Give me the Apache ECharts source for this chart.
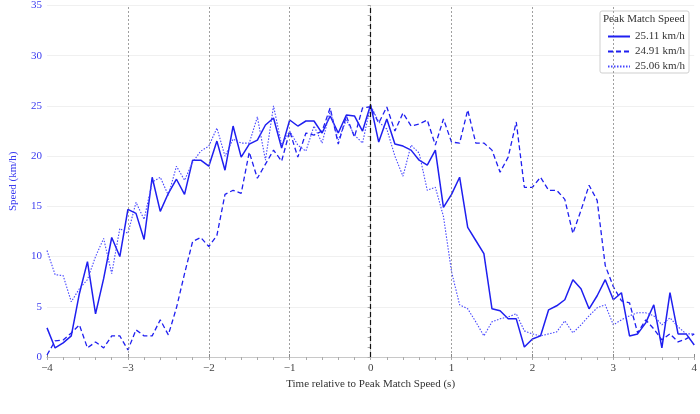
<!DOCTYPE html>
<html>
<head>
<meta charset="utf-8">
<script src="https://cdn.jsdelivr.net/npm/echarts@6/dist/echarts.min.js"></script>
<style>
  html, body { margin: 0; padding: 0; background: #fff; }
  #chart { width: 700px; height: 414px; }
</style>
</head>
<body>
<div id="chart"></div>
<script>
// time axis (s), sampled every 0.1 s
var times = [-4.0, -3.9, -3.8, -3.7, -3.6, -3.5, -3.4, -3.3, -3.2, -3.1,
  -3.0, -2.9, -2.8, -2.7, -2.6, -2.5, -2.4, -2.3, -2.2, -2.1,
  -2.0, -1.9, -1.8, -1.7, -1.6, -1.5, -1.4, -1.3, -1.2, -1.1,
  -1.0, -0.9, -0.8, -0.7, -0.6, -0.5, -0.4, -0.3, -0.2, -0.1,
  0.0, 0.1, 0.2, 0.3, 0.4, 0.5, 0.6, 0.7, 0.8, 0.9,
  1.0, 1.1, 1.2, 1.3, 1.4, 1.5, 1.6, 1.7, 1.8, 1.9,
  2.0, 2.1, 2.2, 2.3, 2.4, 2.5, 2.6, 2.7, 2.8, 2.9,
  3.0, 3.1, 3.2, 3.3, 3.4, 3.5, 3.6, 3.7, 3.8, 3.9, 4.0];

var names = ['25.11 km/h', '24.91 km/h', '25.06 km/h'];

var speedSolid = [2.9, 0.9, 1.4, 2.1, 6.3, 9.5, 4.3, 7.8, 11.9, 10.0,
  14.7, 14.3, 11.7, 17.9, 14.5, 16.3, 17.7, 16.2, 19.6, 19.6,
  19.0, 21.5, 18.6, 23.0, 19.9, 21.2, 21.6, 23.1, 23.8, 20.8,
  23.6, 23.0, 23.5, 23.5, 22.3, 24.0, 22.3, 24.1, 24.0, 22.5,
  25.11, 21.4, 23.7, 21.2, 21.0, 20.6, 19.6, 19.1, 20.6, 14.9,
  16.2, 17.9, 12.9, 11.6, 10.3, 4.8, 4.6, 3.8, 3.8, 1.0,
  1.8, 2.1, 4.7, 5.1, 5.7, 7.7, 6.8, 4.8, 6.1, 7.7,
  5.7, 6.4, 2.1, 2.3, 3.4, 5.2, 0.9, 6.4, 2.3, 2.3, 1.2];

var speedDashed = [0.2, 1.6, 1.7, 2.4, 3.2, 0.9, 1.5, 0.9, 2.1, 2.1,
  0.7, 2.7, 2.1, 2.1, 3.7, 2.2, 4.9, 8.3, 11.5, 11.9,
  11.0, 12.1, 16.2, 16.6, 16.3, 20.4, 17.8, 19.2, 20.6, 19.5,
  22.5, 19.9, 22.3, 22.1, 22.5, 24.8, 21.2, 24.0, 21.9, 24.8,
  24.91, 23.3, 24.9, 22.5, 24.3, 23.0, 23.2, 23.6, 21.1, 23.7,
  21.4, 21.3, 24.6, 21.3, 21.3, 20.6, 18.4, 19.9, 23.4, 16.9,
  16.9, 17.9, 16.6, 16.6, 15.7, 12.3, 14.6, 17.1, 15.6, 9.1,
  7.0, 5.6, 5.4, 2.4, 3.7, 2.8, 1.7, 2.3, 1.5, 1.8, 2.3];

var speedDotted = [10.6, 8.2, 8.1, 5.5, 6.8, 7.7, 10.0, 11.8, 8.3, 12.8,
  12.3, 15.4, 13.7, 17.4, 17.9, 16.1, 19.0, 17.6, 19.4, 20.5,
  21.0, 22.8, 20.0, 21.7, 21.3, 21.3, 23.9, 19.6, 25.0, 21.1,
  22.5, 21.1, 20.5, 23.0, 21.3, 24.5, 21.6, 23.6, 22.1, 21.3,
  25.06, 23.4, 22.7, 20.0, 18.0, 21.1, 20.3, 16.6, 16.9, 14.0,
  8.5, 5.2, 4.8, 3.5, 2.1, 3.5, 3.8, 4.0, 4.3, 2.6,
  2.3, 2.1, 2.3, 2.5, 3.6, 2.4, 3.2, 4.1, 4.9, 5.2,
  3.2, 3.7, 4.1, 4.4, 4.4, 4.1, 3.2, 3.9, 3.0, 2.3, 2.3];

var xTicks = [-3, -2, -1, 1, 2, 3];

var FONT = 'Liberation Serif';
var BLUE = '#1f1ff0';

function pairs(vals) {
  return times.map(function (t, i) { return [t, vals[i]]; });
}

function fmtNum(v) {
  return v < 0 ? '\u2212' + Math.abs(v) : String(v);
}

var chart = echarts.init(document.getElementById('chart'), null, { renderer: 'canvas' });

var vLines = xTicks.map(function (v) {
  return { xAxis: v, lineStyle: { color: '#888', type: [2, 2], width: 0.8 } };
});
vLines.push({ xAxis: 0, lineStyle: { color: '#111', type: [5, 3], width: 1.2 } });

var option = {
  animation: false,
  textStyle: { fontFamily: FONT },
  grid: { left: 30, right: 5, top: 5, bottom: 57 },
  xAxis: [{
    type: 'value', min: -4, max: 4, interval: 1,
    axisLine: { lineStyle: { color: '#c8c8c8' } },
    axisTick: { show: true, inside: true, length: 3, lineStyle: { color: '#888' } },
    splitLine: { show: false },
    axisLabel: { color: '#444', fontSize: 11, margin: 6, fontFamily: FONT, formatter: fmtNum },
    name: 'Time relative to Peak Match Speed (s)',
    nameLocation: 'middle', nameGap: 18,
    nameTextStyle: { color: '#333', fontSize: 11, fontFamily: FONT }
  }, {
    type: 'value', position: 'top', min: -4, max: 4, interval: 0.2,
    axisLine: { show: true, lineStyle: { color: '#c8c8c8' } },
    axisTick: { show: true, inside: true, length: 3, lineStyle: { color: '#aaa' } },
    axisLabel: { show: false },
    splitLine: { show: false }
  }],
  yAxis: [{
    type: 'value', min: 0, max: 35, interval: 5,
    axisLine: { show: true, lineStyle: { color: '#c8c8c8' } },
    axisTick: { show: false },
    splitLine: { show: true, lineStyle: { color: '#ececec', width: 0.8 } },
    axisLabel: { color: '#3a3af0', fontSize: 11, margin: 5, fontFamily: FONT },
    name: 'Speed (km/h)',
    nameLocation: 'middle', nameGap: 28,
    nameTextStyle: { color: '#3a3af0', fontSize: 11, fontFamily: FONT }
  }, {
    type: 'value', position: 'right', min: 0, max: 35, interval: 1,
    axisLine: { show: true, lineStyle: { color: '#c8c8c8' } },
    axisTick: { show: true, inside: true, length: 3, lineStyle: { color: '#aaa' } },
    axisLabel: { show: false },
    splitLine: { show: false }
  }],
  legend: {
    data: names,
    orient: 'vertical',
    left: 602, top: 26,
    itemWidth: 22, itemHeight: 10, itemGap: 4,
    itemStyle: { color: 'transparent', borderColor: 'transparent', borderWidth: 0 },
    textStyle: { fontSize: 11, color: '#333', fontFamily: FONT },
    z: 10
  },
  graphic: [{
    type: 'rect', z: 5,
    shape: { x: 600, y: 11, width: 89, height: 62, r: 2 },
    style: { fill: 'rgba(255,255,255,0.9)', stroke: '#cfcfcf', lineWidth: 1 }
  }, {
    type: 'text', z: 11,
    left: 603, top: 14,
    style: { text: 'Peak Match Speed', fill: '#333', font: '11px "Liberation Serif"' }
  }],
  series: [{
    name: names[0], type: 'line', showSymbol: false, symbol: 'none',
    data: pairs(speedSolid),
    lineStyle: { color: BLUE, width: 1.5, type: 'solid' },
    itemStyle: { color: BLUE },
    z: 3,
    markLine: {
      silent: true, symbol: 'none', label: { show: false },
      data: vLines
    }
  }, {
    name: names[1], type: 'line', showSymbol: false, symbol: 'none',
    data: pairs(speedDashed),
    lineStyle: { color: BLUE, width: 1.3, type: [5, 3] },
    itemStyle: { color: BLUE },
    z: 3
  }, {
    name: names[2], type: 'line', showSymbol: false, symbol: 'none',
    data: pairs(speedDotted),
    lineStyle: { color: '#4646ff', width: 1.1, type: [1.5, 1.5] },
    itemStyle: { color: '#4646ff' },
    z: 3
  }]
};

chart.setOption(option);
</script>
</body>
</html>
